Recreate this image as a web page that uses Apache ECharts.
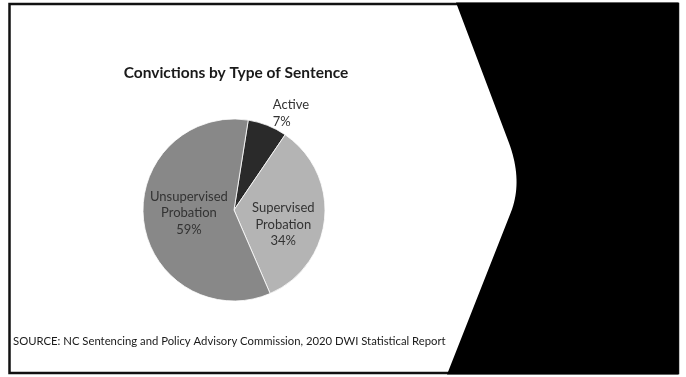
<!DOCTYPE html>
<html>
<head>
<meta charset="utf-8">
<script src="https://cdn.jsdelivr.net/npm/echarts@6/dist/echarts.min.js"></script>
<style>
  html, body { margin: 0; padding: 0; background: #fff; }
  #chart { width: 686px; height: 377px; }
</style>
</head>
<body>
<div id="chart"></div>
<script>
// Sentence types and their share of DWI convictions (%)
const categories = ['Active', 'Supervised\nProbation', 'Unsupervised\nProbation'];
const shares = [7, 34, 59];
const sliceColors = ['#2a2a2a', '#b4b4b4', '#888888'];

const titleText = 'Convictions by Type of Sentence';
const sourceText = 'SOURCE: NC Sentencing and Policy Advisory Commission, 2020 DWI Statistical Report';

const FONT = 'Lato, "Open Sans", sans-serif';

// Outline of the black chevron panel: straight edges with a rounded tip
function chevronPoints() {
  const pts = [[456, 2.5], [509, 143]];
  const p0 = [509, 143], c = [523, 181], p1 = [511, 212];
  for (let k = 1; k < 20; k++) {
    const t = k / 20, u = 1 - t;
    pts.push([
      u * u * p0[0] + 2 * u * t * c[0] + t * t * p1[0],
      u * u * p0[1] + 2 * u * t * c[1] + t * t * p1[1]
    ]);
  }
  pts.push([511, 212], [447, 374.5], [678.5, 374.5], [678.5, 2.5]);
  return pts;
}

const chart = echarts.init(document.getElementById('chart'), null, { renderer: 'canvas' });

const pieData = categories.map((name, i) => {
  const item = { name: name, value: shares[i], itemStyle: { color: sliceColors[i] } };
  if (i === 0) {
    item.label = { position: 'outside' };
    item.labelLine = { show: false, length: 12, length2: 0 };
  }
  return item;
});

chart.setOption({
  backgroundColor: '#ffffff',
  animation: false,
  title: {
    text: titleText,
    left: 231,
    top: 60,
    textAlign: 'center',
    textStyle: { fontFamily: FONT, fontSize: 15.5, fontWeight: 'bold', color: '#1a1a1a' }
  },
  graphic: [
    {
      // slide frame
      type: 'rect',
      shape: { x: 9.5, y: 4, width: 668.5, height: 369 },
      style: { fill: 'none', stroke: '#111', lineWidth: 2.5 },
      z: 1
    },
    {
      type: 'polygon',
      shape: { points: chevronPoints() },
      style: { fill: '#000' },
      z: 2
    },
    {
      type: 'text',
      left: 13,
      top: 336,
      style: {
        text: sourceText,
        font: '11.3px ' + FONT,
        fill: '#1a1a1a'
      },
      z: 3
    }
  ],
  series: [{
    type: 'pie',
    center: [234, 210],
    radius: [0, 91],
    startAngle: 81,
    clockwise: true,
    silent: true,
    itemStyle: { borderColor: '#ffffff', borderWidth: 0.8 },
    label: {
      show: true,
      position: 'inside',
      formatter: p => p.name + '\n' + p.value + '%',
      fontFamily: FONT,
      fontSize: 13,
      lineHeight: 16.5,
      color: '#333333',
      align: 'center'
    },
    labelLayout: function (p) {
      if (p.dataIndex === 0) {
        return { dx: -p.labelRect.width / 2 + 14, dy: -1 };
      }
      if (p.dataIndex === 1) {
        return { dx: 1, dy: 10 };
      }
      return { dx: 3, dy: -3 };
    },
    data: pieData
  }]
});
</script>
</body>
</html>
